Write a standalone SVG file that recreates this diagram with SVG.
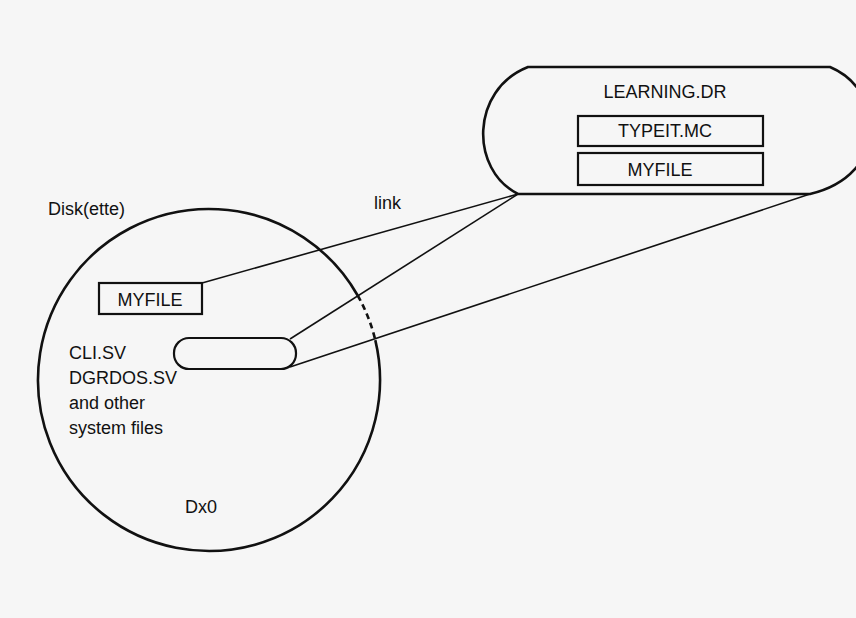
<svg xmlns="http://www.w3.org/2000/svg" width="856" height="618" viewBox="0 0 856 618">
<style>
text{font-family:"Liberation Sans",Arial,sans-serif;font-size:18px;fill:#111}
.box{fill:none;stroke:#111;stroke-width:2.2}
.ln{fill:none;stroke:#111;stroke-width:1.6}
.outline{fill:none;stroke:#111;stroke-width:2.6}
</style>
<rect width="856" height="618" fill="#f6f6f6"/>
<g id="disk">
<path class="outline" d="M375.3,340.1 A171,171 0 1 1 357.7,295.5"/>
<path class="outline" stroke-dasharray="6 4" d="M357.7,295.5 A171,171 0 0 1 375.3,340.1"/>
<text x="48" y="215">Disk(ette)</text>
<text x="185" y="513">Dx0</text>
</g>
<g id="myfile-disk">
<rect class="box" x="99" y="283" width="103" height="31"/>
<text x="150" y="306" text-anchor="middle">MYFILE</text>
</g>
<g id="sysfiles">
<text x="69" y="359">CLI.SV</text>
<text x="69" y="384">DGRDOS.SV</text>
<text x="69" y="409">and other</text>
<text x="69" y="434">system files</text>
</g>
<g id="dir-entry">
<rect class="box" x="174" y="338" width="122" height="31" rx="15" ry="15"/>
</g>
<g id="learning">
<path class="outline" d="M528,67 L830,67 C885,90 890,175 810,194 L518,194 C470,170 470,90 528,67 Z"/>
<text x="665" y="98" text-anchor="middle">LEARNING.DR</text>
<rect class="box" x="578" y="116" width="185" height="30"/>
<text x="665" y="137" text-anchor="middle">TYPEIT.MC</text>
<rect class="box" x="578" y="153" width="185" height="32"/>
<text x="660" y="176" text-anchor="middle">MYFILE</text>
</g>
<g id="connectors">
<line class="ln" x1="202" y1="283" x2="518" y2="194"/>
<line class="ln" x1="290" y1="339" x2="518" y2="194"/>
<line class="ln" x1="290" y1="367" x2="810" y2="194"/>
<text x="374" y="209">link</text>
</g>
</svg>
